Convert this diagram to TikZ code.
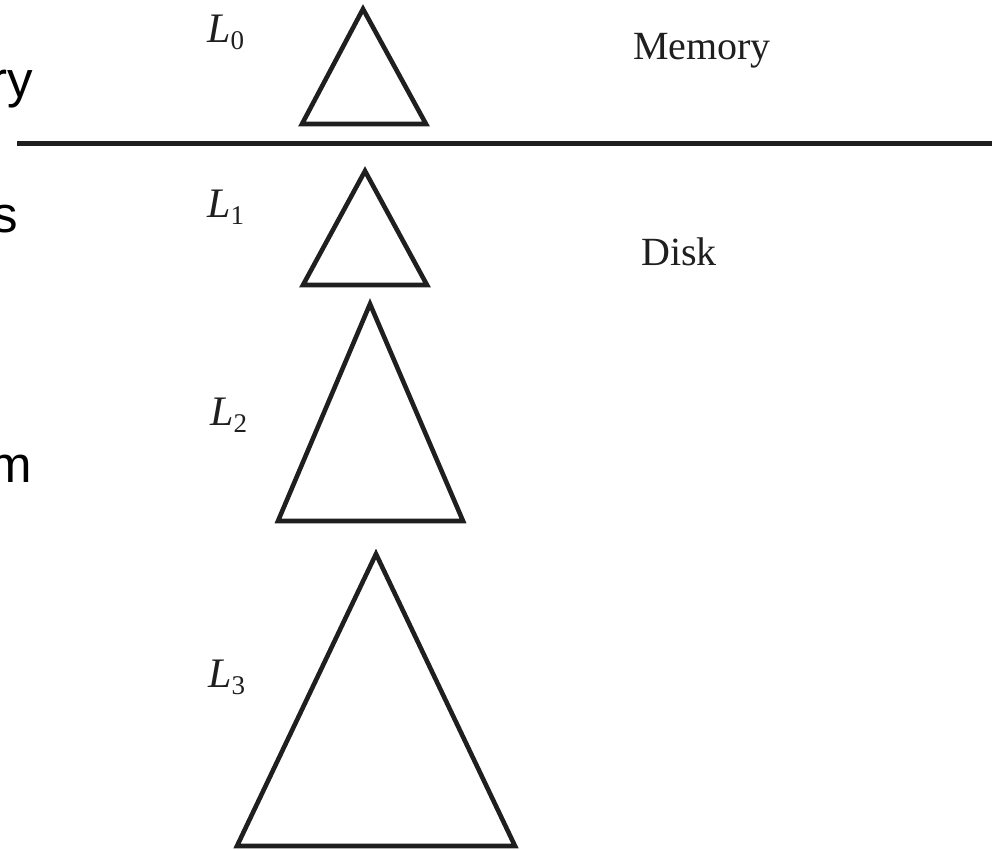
\documentclass[tikz,border=0pt]{standalone}
\usepackage{fontspec}
\setmainfont{Liberation Serif}
\newfontfamily\armfont{Liberation Sans}
\begin{document}
\begin{tikzpicture}[x=1pt,y=-1pt,
  tri/.style={draw=black!88,line width=4.6pt,line join=miter},
  lbl/.style={anchor=base west,inner sep=0pt,font=\fontsize{42}{46}\selectfont,text=black!88},
  word/.style={anchor=base west,inner sep=0pt,font=\fontsize{40}{44}\selectfont,text=black!88},
  cut/.style={anchor=base east,inner sep=0pt,font=\armfont\fontsize{51}{56}\selectfont}]
\useasboundingbox (0,0) rectangle (992,849);
% separator line
\coordinate (s1) at (17,143.5);
\coordinate (s2) at (995,143.5);
\draw[line width=4.2pt,black!88] (s1) -- (s2);
% triangles
\draw[tri] (363,9) -- (426,124) -- (302,124) -- cycle;
\draw[tri] (365,171) -- (427,285) -- (303,285) -- cycle;
\draw[tri] (370,304) -- (463,521) -- (278,521) -- cycle;
\draw[tri] (376,554) -- (515,846) -- (237,846) -- cycle;
% labels
\newcommand{\Lsub}[1]{\textit{L}\raisebox{-7pt}{\fontsize{27}{30}\selectfont #1}}
\node[lbl] (l0) at (207,42) {\Lsub{0}};
\node[lbl] (l1) at (207,217) {\Lsub{1}};
\node[lbl] (l2) at (210,425) {\Lsub{2}};
\node[lbl] (l3) at (208,687) {\Lsub{3}};
\node[word] (mem) at (633,59) {Memory};
\node[word] (disk) at (641,265) {Disk};
% cut-off words at the left edge
\node[cut] (c1) at (33,97) {ry};
\node[cut] (c2) at (18.5,232) {s};
\node[cut] (c3) at (32.5,482) {m};
\end{tikzpicture}
\end{document}
